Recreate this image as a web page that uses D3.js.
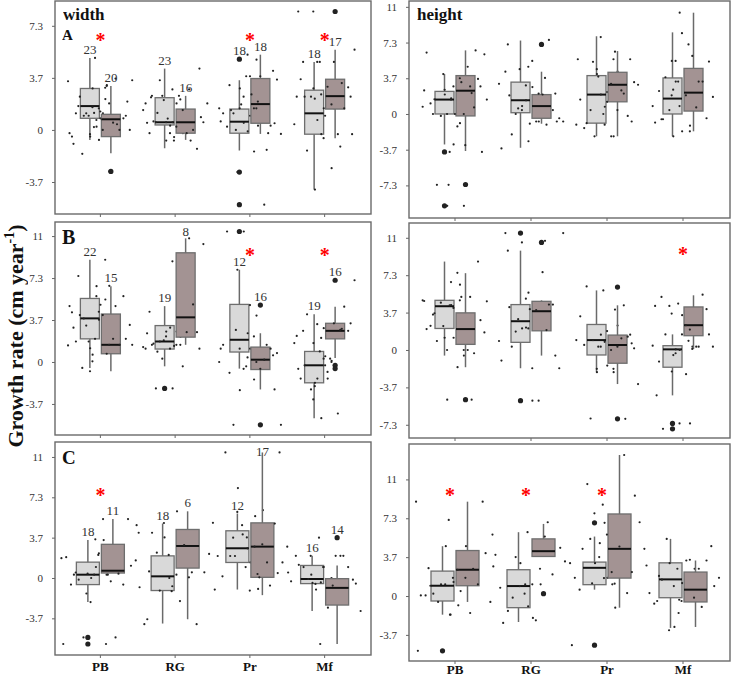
<!DOCTYPE html>
<html>
<head>
<meta charset="utf-8">
<script src="https://cdn.jsdelivr.net/npm/d3@7"></script>
<style>
body{margin:0;background:#fff}
svg{display:block;font-family:"Liberation Serif","Times New Roman",serif}
svg text{opacity:0.999}
</style>
</head>
<body>
<svg id="chart" width="731" height="677"></svg>
<script>
// ---- data ----
var categories = ["PB", "RG", "Pr", "Mf"];
var tickValues = [-7.333, -3.667, 0, 3.667, 7.333, 11];
var tickLabels = ["-7.3", "-3.7", "0", "3.7", "7.3", "11"];

// box stats: [low whisker, q1, median, q3, high whisker]
var widthA_light = [[-0.70,0.82,1.68,2.92,5.07],[-1.29,0.35,0.54,2.27,4.32],[-1.45,-0.23,0.58,1.47,3.5],[-4.2,-0.30,1.17,2.8,4.79]];
var widthA_dark  = [[-1.64,-0.47,0.75,1.1,3.1],[-0.70,-0.23,0.54,1.47,2.4],[-0.28,0.47,1.82,3.62,5.3],[-0.58,1.47,2.38,3.57,5.65]];
var widthA_lightOut = [[],[],[4.98,-2.97,-5.26],[]];
var widthA_darkOut  = [[-2.92],[],[],[8.34]];
var widthA_n = [[23,20],[23,16],[18,18],[18,17]];
var widthA_star = [1,0,1,1];
var widthA_starAt = 6.5;

var heightA_light = [[-3.13,0,1.48,2.32,4.1],[-3.47,0.13,1.41,3.27,7.54],[-2.29,-0.94,1.99,3.94,7.98],[-2.29,0,1.58,3.7,8.38]];
var heightA_dark  = [[-3.8,-0.2,2.39,3.94,6.53],[-1.0,-0.44,0.81,1.99,4.34],[-2.29,1.25,3.0,4.28,6.46],[-1.78,0.3,2.19,4.68,10.4]];
var heightA_lightOut = [[-3.9,-9.43],[],[],[]];
var heightA_darkOut  = [[-7.24],[7.14],[],[]];
var heightA_star = [0,0,0,0];

var widthB_light = [[-0.52,2.02,3.81,5.55,8.93],[-0.38,1.13,1.79,3.18,4.88],[-0.58,0.87,1.94,5.03,8.06],[-4.91,-1.82,-0.29,0.92,4.16]];
var widthB_dark  = [[-0.81,0.72,1.5,4.19,6.62],[1.5,2.17,3.9,9.54,10.8],[-2.4,-0.66,0.2,1.3,2.51],[0.35,2.02,2.72,3.38,4.83]];
var widthB_lightOut = [[],[-2.31],[11.4],[]];
var widthB_darkOut  = [[],[],[4.97,-5.49],[7.14,-0.29,-0.58]];
var widthB_n = [[22,15],[19,8],[12,16],[19,16]];
var widthB_star = [0,0,1,1];
var widthB_starAt = 9.5;

var heightB_light = [[-0.55,2.11,4.29,4.87,8.67],[-1.79,0.75,2.82,4.45,9.74],[-2.18,-0.49,0.97,2.5,5.84],[-4.45,-1.69,0.06,0.42,1.53]];
var heightB_dark  = [[-1.69,0.55,2.05,3.64,7.53],[-0.55,1.88,3.8,4.77,4.87],[-3.34,-1.3,0.49,1.46,4.38],[0.1,1.4,2.43,4.22,5.36]];
var heightB_lightOut = [[],[11.46,-4.97],[],[-7.2,-7.73]];
var heightB_darkOut  = [[-4.87],[10.55],[6.17,-6.75],[]];
var heightB_star = [0,0,0,1];
var heightB_starAt = 9.6;

var widthC_light = [[-2.19,-0.6,0.3,1.44,3.45],[-4.14,-1.14,0.15,2.01,4.95],[-1.05,1.41,2.7,4.29,5.86],[-3.0,-0.51,-0.09,1.14,2.01]];
var widthC_dark  = [[0.45,0.45,0.66,3.06,5.35],[-3.75,0.9,2.91,4.41,6.06],[-1.56,0.06,2.85,5.01,11.41],[-6.0,-2.46,-0.9,-0.06,1.14]];
var widthC_lightOut = [[-5.4,-6.0],[],[],[]];
var widthC_darkOut  = [[],[],[],[3.66]];
var widthC_n = [[18,11],[18,6],[12,17],[16,14]];
var widthC_star = [1,0,0,0];
var widthC_starAt = 7.7;

var heightC_light = [[-1.76,-0.47,0.97,2.35,4.7],[-2.45,-1.1,0.94,2.48,6.02],[0.6,1.07,2.66,3.2,5.61],[-3.01,-0.16,1.57,3.13,5.39]];
var heightC_dark  = [[-0.56,0.97,2.48,4.29,8.9],[3.73,3.73,4.23,5.39,6.8],[-1.1,1.69,4.45,7.74,13.3],[-2.92,-0.56,0.6,2.26,3.35]];
var heightC_lightOut = [[-5.17],[],[6.9,-4.64],[]];
var heightC_darkOut  = [[],[0.22],[],[]];
var heightC_star = [1,1,1,0];
var heightC_starAt = 9.7;

// individual observations (small dots)
var widthA_lightPts = [
  [3.43,5.07,1.68,2.17,1.0,-0.47,-0.70,-1.68,-2.92,2.92,1.17,1.17,1.17,-0.23,0.23,2.34,3.15,-0.47,-0.98,0.82,1.0,0.4,1.2],
  [2.4,2.4,2.4,1.87,0.54,0.54,-0.23,-0.75,-0.23,1.87,3.5,1.4,0.3,0.6,1.0,2.1,0.5,-0.5,1.2,0.4,0.8,2.3,0.0],
  [0,1.52,3.78,3.15,4.95,2.92,1.17,1.0,1.17,0.7,0.5,0.23,-1.52,-2.97,0.6,-0.1,1.4,0.3],
  [4.79,4.79,2.92,2.92,2.34,1.52,-1.45,1.52,0.7,3.57,2.34,2.34,0.4,-0.3,2.34,-2.69,-4.2,8.34]];
var widthA_darkPts = [
  [2.97,3.5,3.62,1.52,1.0,1.87,1.6,0,0,0,0.51,0.7,0.82,3.1,-0.3,0.4,1.3,2.0,-2.92,0.2],
  [2.85,2.85,4.32,1.4,0.54,0,0.23,0.54,-0.23,-0.23,-1.33,2.15,1.87,-0.75,-0.75,0.9],
  [4.16,1.52,1.52,-1.4,3.78,3.55,3.78,2.34,0.3,1.52,-0.28,-5.26,5.3,0.47,2.0,1.8,-0.23,2.5],
  [8.34,-1.17,-0.58,2.34,4.79,4.79,1.52,3.04,5.65,-0.3,2.5,3.0,1.8,2.2,3.3,1.0,-0.3]];
var heightA_lightPts = [
  [0.74,-3.9,0,-0.94,4.1,6.3,-3.13,-7.27,-9.43,-9.43,1.08,0.74,-0.2,2.42,1.6,1.5,0.5,2.0],
  [7.14,0.74,0.57,-3.54,-2.8,-2.1,-0.77,0.81,4.34,2.76,0.0,3.1,1.4,1.9,0.2,4.6],
  [5.35,-1.1,0,-0.94,-2.29,4.1,1.48,2.25,0.4,4.34,2.0,-1.45,-2.29,-2.29,5.62,0.74],
  [3.33,-0.54,7.14,5.45,-0.88,-1.78,3.77,3.33,3.33,2.36,2.36,0.4,0.81,10.4,-0.54,-1.2,-2.29]];
var heightA_darkPts = [
  [3.67,1.48,2.83,2.83,2.83,0,0,0.67,-1.28,6.13,4.85,1.48,3.6,3.27,2.49,2.15,0,-3.9,-3.2,-7.27,6.53],
  [3.7,4.85,2.09,2.09,0.4,7.6,5.45,-0.44,2.0,2.93,0.4,-0.77,-0.77,-1.1,-1.0,-0.77,7.14],
  [5.62,5.62,4.6,2.1,1.25,3.27,0.4,7.9,-0.2,3.1,3.0,2.42,-1.1,-0.77,6.4,3.84],
  [1.92,3.33,8.3,5.38,5.96,5.45,3.33,1.92,1.75,0.67,0.81,-0.44,-1.78,2.5]];
var widthB_lightPts = [
  [1.45,2.02,7.51,5.46,1.79,4.34,3.7,-0.52,6.65,0.64,1.79,0.92,3.18,4.88,6.62,4.1,2.5,1.2,3.0,5.0,3.8,2.1],
  [1.5,4.1,0.29,1.16,-2.31,-2.31,2.95,2.66,4.39,2.66,1.79,1.3,3.0,1.6,2.2,1.9,2.5,1.4,0.9],
  [2.8,0,-0.38,-0.95,4.05,-2.46,1.5,1.16,-5.49,0,11.4,11.4,-1.53,8.06,1.16,2.51],
  [0.92,2.72,0.29,1.65,2.28,2.95,4.16,-0.29,-1.45,-1.45,-1.45,-2.4,1.65,-4.91,-0.29,0.1,-1.82,-0.6,0.5]];
var widthB_darkPts = [
  [8.93,1.5,4.88,4.39,2.02,1.5,0.06,1.5,4.1,3.24,2.02,5.75,5.75,0.72,-0.81],
  [10.8,8.79,1.16,-0.38,2.23,5.03,1.5,10.3,2.6,1.16,2.6,1.5],
  [0.58,0,1.16,1.5,4.97,0.78,-0.6,-0.6,1.16,2.23,-5.49,0.2,0.4,-2.4],
  [-3.27,2.8,0.29,3.38,3.38,3.3,4.83,-0.87,7.14,-4.5,2.1,2.72,0,-2.11,2.9,-0.29]];
var heightB_lightPts = [
  [4.87,4.38,3.47,6.4,2.34,2.05,1.2,0.88,-0.55,-4.87,2.37,-1.69,4.64,4.8,4.4,3.6,1.5],
  [9.74,2.69,3.02,-1.04,5.62,0.32,3.02,2.11,11.46,-4.97,1.8,0.88,2.2,4.2,3.5],
  [0.97,0.97,5.84,6.23,-2.18,-2.18,3.3,-1.53,-6.72,2.4,1.5,0.5],
  [4.55,5.2,0.9,-2.11,4.32,3.41,1.53,0.32,0.06,-1.14,-2.37,4.32,0.42,0,-7.73,-7.2,-0.5,-4.45]];
var heightB_darkPts = [
  [4.87,4.77,5.2,4.12,2.92,0,0,-0.32,7.56,1.72,0,6.66,8.67,5.2,1.2,-4.87],
  [10.7,2.11,-0.55,-4.97,10.55,4.45,-1.79,-1.79,7.63,5.03,4.45,3.9,11.46,1.95,4.0],
  [1.5,-1.85,-1.85,4.38,1.85,0.16,0.32,0.32,1.3,0,-3.34,1.14,0.8,0.65,3.96,0.32,-6.75],
  [3.57,0.32,1.53,1.53,0.1,-0.32,5.42,2.43,0.32,0.32,-7.2,4.0,2.0]];
var widthC_lightPts = [
  [1.8,0.3,0.3,0.3,-1.41,1.89,2.25,-0.15,1.2,0.0,-0.6,3.45,-5.4,-6.0,1.0,0.5],
  [-3.75,-2.1,-1.14,-0.84,-0.75,4.11,2.25,3.69,-4.2,6.06,2.3,4.8,0.0,0.6],
  [3.66,5.01,0.99,11.41,-0.99,8.17,2.0,1.41,2.0,6.16,3.96,0.15,5.62,2.0,-1.05,2.7],
  [3.66,1.2,0.0,0.3,-0.3,1.0,0.99,-1.05,-1.05,2.01,-1.56,-0.09,0.5,-0.4]];
var widthC_darkPts = [
  [-6.0,4.11,0.39,2.1,1.11,-0.3,-2.19,-0.6,5.35,1.6,-5.4,3.51,5.35,0.3,0.39],
  [0.51,-1.2,0.51,3.0,5.0,-4.2,0.3,2.19,0.06,2.1],
  [0.45,0.36,6.0,-0.69,-1.14,1.41,3.06,4.8,4.95,2.85,2.85,1.41,3.69,11.41,0.06],
  [2.01,2.01,0.99,-0.51,2.01,-0.54,0.99,-2.7,-3.0,2.01,-6.0,-0.15,-0.69,-0.45]];
var heightC_lightPts = [
  [8.9,7.18,2.63,2.95,1.1,0.06,1.32,0.22,4.7,4.7,0.06,-0.88,-0.56,-5.17,-1.76,0.97],
  [-2.54,-2.29,3.67,3.89,-0.97,-1.41,1.1,3.1,0.78,-2.07,-0.16,5.8,1.1],
  [5.39,3.1,8.62,4.45,-1.1,3.1,1.72,1.72,10.56,3.1,4.98,0.6,1.1,1.2,-4.64,6.9],
  [2.57,-0.47,3.42,3.1,0.28,1.22,1.54,2.57,-2.92,-0.72,1.79,5.39,2.88,-0.35,1.9]];
var heightC_darkPts = [
  [0.47,2.79,2.57,1.72,4.04,1.72,1.1,1.1,2.48,-0.56,-1.6,-1.76,8.9],
  [6.96,6.02,4.55,2.57,0.94,2.04,1.1,3.26,5.61,0.22],
  [9.47,1.16,7.8,0.28,5.8,6.96,4.67,3.67,2.26,2.26,4.45,13.3,1.69],
  [-3.23,-1.03,-0.47,0.94,-0.16,0.94,3.35,3.35,1.72,2.57,-1.6,4.7]];

// ---- layout ----
var panels = [
  {x0:55, x1:371, y0:1, y1:214, dom:[-5.92,9.08], boxW:19, title:"width", letter:"A", letterSize:15,
   light:widthA_light, dark:widthA_dark, lightOut:widthA_lightOut, darkOut:widthA_darkOut,
   lightPts:widthA_lightPts, darkPts:widthA_darkPts, n:widthA_n, star:widthA_star, starAt:widthA_starAt},
  {x0:409, x1:730, y0:1, y1:218, dom:[-10.68,11.6], boxW:19, title:"height",
   light:heightA_light, dark:heightA_dark, lightOut:heightA_lightOut, darkOut:heightA_darkOut,
   lightPts:heightA_lightPts, darkPts:heightA_darkPts, star:heightA_star},
  {x0:55, x1:371, y0:222, y1:435, dom:[-6.38,12.23], boxW:19, letter:"B", letterSize:20,
   light:widthB_light, dark:widthB_dark, lightOut:widthB_lightOut, darkOut:widthB_darkOut,
   lightPts:widthB_lightPts, darkPts:widthB_darkPts, n:widthB_n, star:widthB_star, starAt:widthB_starAt},
  {x0:409, x1:730, y0:223, y1:438, dom:[-8.63,12.45], boxW:19,
   light:heightB_light, dark:heightB_dark, lightOut:heightB_lightOut, darkOut:heightB_darkOut,
   lightPts:heightB_lightPts, darkPts:heightB_darkPts, star:heightB_star, starAt:heightB_starAt},
  {x0:55, x1:371, y0:442, y1:655, dom:[-7.0,12.36], boxW:23, letter:"C", letterSize:19, xlabels:true,
   light:widthC_light, dark:widthC_dark, lightOut:widthC_lightOut, darkOut:widthC_darkOut,
   lightPts:widthC_lightPts, darkPts:widthC_darkPts, n:widthC_n, star:widthC_star, starAt:widthC_starAt},
  {x0:409, x1:730, y0:444, y1:661, dom:[-6.13,14.34], boxW:23, xlabels:true, starShift:-5,
   light:heightC_light, dark:heightC_dark, lightOut:heightC_lightOut, darkOut:heightC_darkOut,
   lightPts:heightC_lightPts, darkPts:heightC_darkPts, star:heightC_star, starAt:heightC_starAt}
];

var fills = {light:"#d9d9d9", dark:"#a39393"};
var svg = d3.select("#chart");

panels.forEach(function(p){
  var y = d3.scaleLinear().domain(p.dom).range([p.y1, p.y0]);
  var x = d3.scaleBand().domain(categories).range([p.x0 + 8, p.x1 - 9]);
  var g = svg.append("g");

  // y axis
  var ticks = tickValues.filter(function(v){ return v >= p.dom[0] && v <= p.dom[1]; });
  var yAxis = d3.axisLeft(y).tickValues(ticks).tickSize(3).tickPadding(9)
    .tickFormat(function(d){ return tickLabels[tickValues.indexOf(d)]; });
  var ya = g.append("g").attr("transform", "translate(" + p.x0 + ",0)").call(yAxis);
  ya.select(".domain").remove();
  ya.selectAll("line").attr("stroke", "#666");
  ya.selectAll("text").attr("font-family", "Liberation Serif").attr("font-size", 11).attr("fill", "#333");

  // x axis
  var xAxis = d3.axisBottom(x).tickSize(3).tickPadding(3)
    .tickFormat(function(d){ return p.xlabels ? d : ""; });
  var xa = g.append("g").attr("transform", "translate(0," + p.y1 + ")").call(xAxis);
  xa.select(".domain").remove();
  xa.selectAll("line").attr("stroke", "#666");
  xa.selectAll("text").attr("font-family", "Liberation Serif").attr("font-size", 13)
    .attr("font-weight", "bold").attr("fill", "#111")
    .attr("dy", null).attr("y", Math.min(16, 674 - p.y1));

  ["light", "dark"].forEach(function(grp, gi){
    var cx = function(i){
      return x(categories[i]) + x.bandwidth() / 2 + (gi === 0 ? -1 : 1) * (p.boxW / 2 + 1);
    };
    var stats = p[grp];
    var bg = g.append("g");

    bg.selectAll("line.whisk").data(stats).enter().append("line")
      .attr("x1", function(d, i){ return cx(i); }).attr("x2", function(d, i){ return cx(i); })
      .attr("y1", function(d){ return y(d[0]); }).attr("y2", function(d){ return y(d[4]); })
      .attr("stroke", "#6a6a6a").attr("stroke-width", 1.5);

    bg.selectAll("rect").data(stats).enter().append("rect")
      .attr("x", function(d, i){ return cx(i) - p.boxW / 2; })
      .attr("width", p.boxW)
      .attr("y", function(d){ return y(d[3]); })
      .attr("height", function(d){ return Math.max(0.5, y(d[1]) - y(d[3])); })
      .attr("fill", fills[grp]).attr("stroke", "#6e6e6e").attr("stroke-width", 1.3);

    bg.selectAll("line.med").data(stats).enter().append("line")
      .attr("x1", function(d, i){ return cx(i) - p.boxW / 2; })
      .attr("x2", function(d, i){ return cx(i) + p.boxW / 2; })
      .attr("y1", function(d){ return y(d[2]); }).attr("y2", function(d){ return y(d[2]); })
      .attr("stroke", "#111").attr("stroke-width", 2);

    // jittered observations (deterministic spread)
    var pts = [];
    p[grp + "Pts"].forEach(function(arr, i){
      arr.forEach(function(v, j){
        var f = ((j * 0.618034 + gi * 0.37 + i * 0.21) % 1) - 0.5;
        pts.push({x: cx(i) + f * p.boxW * 2.3, v: v});
      });
    });
    bg.selectAll("circle.pt").data(pts).enter().append("circle")
      .attr("cx", function(d){ return d.x; }).attr("cy", function(d){ return y(d.v); })
      .attr("r", 1.1).attr("fill", "#222");

    var outs = [];
    p[grp + "Out"].forEach(function(arr, i){
      arr.forEach(function(v){ outs.push({x: cx(i), v: v}); });
    });
    bg.selectAll("circle.out").data(outs).enter().append("circle")
      .attr("cx", function(d){ return d.x; }).attr("cy", function(d){ return y(d.v); })
      .attr("r", 2.6).attr("fill", "#222");

    // sample sizes
    if (p.n) {
      stats.forEach(function(d, i){
        var top = d[4];
        p[grp + "Out"][i].forEach(function(o){ if (o > top && o - d[4] < 2.6) top = o; });
        var ty = Math.max(p.y0 + 14, y(top) - 4);
        bg.append("text").attr("x", cx(i)).attr("y", ty)
          .attr("text-anchor", "middle").attr("font-size", 13).attr("fill", "#333")
          .text(p.n[i][gi]);
      });
    }
  });

  // significance stars
  p.star.forEach(function(s, i){
    if (!s) return;
    g.append("text")
      .attr("x", x(categories[i]) + x.bandwidth() / 2 + (p.starShift || 0))
      .attr("y", y(p.starAt) + 9)
      .attr("text-anchor", "middle").attr("font-size", 20).attr("font-weight", "bold")
      .attr("fill", "#ff0000").text("*");
  });

  // frame
  g.append("rect").attr("x", p.x0).attr("y", p.y0)
    .attr("width", p.x1 - p.x0).attr("height", p.y1 - p.y0)
    .attr("fill", "none").attr("stroke", "#6a6a6a").attr("stroke-width", 1.4);

  if (p.title) {
    g.append("text").attr("x", p.x0 + 8).attr("y", p.y0 + 19)
      .attr("font-size", 17).attr("font-weight", "bold").attr("fill", "#111").text(p.title);
  }
  if (p.letter) {
    g.append("text").attr("x", p.x0 + 7).attr("y", p.letter === "A" ? p.y0 + 39 : p.y0 + 22)
      .attr("font-size", p.letterSize).attr("font-weight", "bold").attr("fill", "#111").text(p.letter);
  }
});

// y axis title
var yt = svg.append("text")
  .attr("transform", "translate(23,336) rotate(-90)")
  .attr("text-anchor", "middle").attr("font-size", 22).attr("font-weight", "bold").attr("fill", "#111");
yt.append("tspan").text("Growth rate (cm year");
yt.append("tspan").attr("font-size", 14).attr("dy", -9).text("-1");
yt.append("tspan").attr("dy", 9).text(")");
</script>
</body>
</html>
